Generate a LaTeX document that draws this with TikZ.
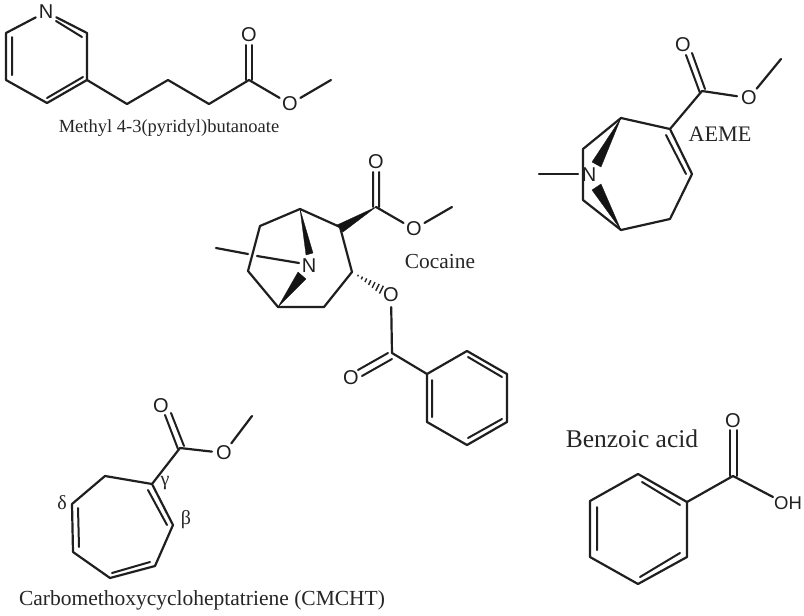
\documentclass[tikz,border=0pt]{standalone}
\usepackage{fontspec}
\usetikzlibrary{calc}
\setmainfont{Liberation Serif}
\newfontfamily\atomfont{Liberation Sans}
\tikzset{
  x=1pt,y=-1pt,
  bond/.style={line width=2.2pt,draw=black!88,line cap=round,line join=round},
  inner/.style={line width=2pt,draw=black!88,line cap=round},
  wedge/.style={fill=black!92,draw=black!92,line width=.3pt,line join=round},
  hash/.style={line width=1.4pt,draw=black!85},
  atom/.style={font=\atomfont\fontsize{20}{20}\selectfont,text=black!88,inner sep=1pt,circle},
  cap/.style={text=black!85,inner sep=0pt,font=\fontsize{#1}{#1}\selectfont},
  cap/.default=21.5
}
\newcommand{\pts}[1]{\foreach \nm/\xx/\yy in {#1}{\coordinate (\nm) at (\xx,\yy);}}
\begin{document}
\begin{tikzpicture}
\path[fill=white,use as bounding box] (0,0) rectangle (804,616);
% ---------- Methyl 4-3(pyridyl)butanoate
\node[atom] (aN) at (46,12) {N};
\node[atom] (aO1) at (249,35) {O};
\node[atom] (aO2) at (290,104) {O};
\coordinate (a1) at (87,33);
\pts{a2/87/80,a3/47/103,a4/6/80,a5/6/33,a6/127/104,a7/168/80,a8/209/104,a9/249/80,a10/331/80,
 ai1/56/21,ai2/82/37,ai3/12/37,ai4/12/75,ai5/47/98,ai6/83/77,ad1/246/45,ad2/246/80,ad3/252/45,ad4/252/80}
\draw[bond] (aN)--(a1)--(a2)--(a3)--(a4)--(a5)--(aN);
\draw[bond] (a2)--(a6)--(a7)--(a8)--(a9)--(aO2)--(a10);
\draw[inner] (ai1)--(ai2) (ai3)--(ai4) (ai5)--(ai6);
\draw[inner] (ad1)--(ad2) (ad3)--(ad4);
\node[cap=18.5] (la) at (169,128) {Methyl 4-3(pyridyl)butanoate};
% ---------- AEME
\node[atom] (bO1) at (683,45) {O};
\node[atom] (bO2) at (749,98) {O};
\node[atom,inner sep=0pt] (bN) at (589,175) {N};
\pts{b1/702/91,b2/670/129,b3/621/118,b4/692/174,b5/670/219,b6/621/230,b7/583/149,b8/583/200,b9/781/59,b10/539/174,b11/578/174,
 bi1/666/135,bi2/686/174,bd1/686/55,bd2/700/93,bd3/692/53,bd4/705/89,bw1/592/162,bw2/601/167,bw3/592/190,bw4/601/184}
\draw[bond] (b1)--(b2)--(b3)--(b7)--(b8)--(b6)--(b5)--(b4)--(b2);
\draw[bond] (b1)--(bO2)--(b9);
\draw[bond] (b10)--(b11);
\draw[inner] (bi1)--(bi2) (bd1)--(bd2) (bd3)--(bd4);
\fill[wedge] (b3)--(bw2)--(bw1)--cycle;
\fill[wedge] (b6)--(bw4)--(bw3)--cycle;
\node[cap=22.2] (lb) at (720,134) {AEME};
% ---------- Cocaine
\node[atom] (cO1) at (376,162) {O};
\node[atom] (cO2) at (414,229) {O};
\node[atom] (cO3) at (391,295) {O};
\node[atom] (cO4) at (351,378) {O};
\node[atom,inner sep=0pt] (cN) at (309,266) {N};
\pts{c1/376/207,c2/340/227,c3/300/209,c4/260/226,c5/248/271,c6/278/307,c7/324/307,c8/352/272,c9/452/207,
 c10/216/248,c11/248/254,c12/257/256,c13/299/263,c14/392/353,
 r1/427/374,r2/467/351,r3/507/374,r4/507/422,r5/467/445,r6/427/422,
 ri1/432/380,ri2/432/417,ri3/468/357,ri4/502/377,ri5/468/438,ri6/502/419,
 cd1/373/172,cd2/373/207,cd3/379/172,cd4/379/207,cd5/358/370,cd6/388/353,cd7/362/376,cd8/392/359,
 cw1/337/225,cw2/343/232,cw3/306/255,cw4/313/253,cw5/298/272,cw6/306/279,h1/380/294,h2/384/286}
\draw[bond] (c2)--(c3)--(c4)--(c5)--(c6)--(c7)--(c8)--(c2);
\draw[bond] (c1)--(cO2)--(c9);
\draw[bond] (c10)--(c11) (c12)--(c13);
\draw[bond] (cO3)--(c14)--(r1);
\draw[bond] (r1)--(r2)--(r3)--(r4)--(r5)--(r6)--cycle;
\draw[inner] (ri1)--(ri2) (ri3)--(ri4) (ri5)--(ri6);
\draw[inner] (cd1)--(cd2) (cd3)--(cd4) (cd5)--(cd6) (cd7)--(cd8);
\fill[wedge] (c1)--(cw2)--(cw1)--cycle;
\fill[wedge] (c3)--(cw4)--(cw3)--cycle;
\fill[wedge] (c6)--(cw6)--(cw5)--cycle;
\foreach \t in {0.2,0.33,0.46,0.59,0.72,0.85,0.98}
  \draw[hash] ($(c8)!\t!(h1)$)--($(c8)!\t!(h2)$);
\node[cap=21.4] (lc) at (440,262) {Cocaine};
% ---------- CMCHT
\node[atom] (dO1) at (161,406) {O};
\node[atom] (dO2) at (224,453) {O};
\pts{d1/180/448,d2/152/484,d3/105/476,d4/72/504,d5/73/552,d6/110/578,d7/155/566,d8/173/525,d9/252/416,
 di1/148/490,di2/167/525,di3/78/508,di4/79/547,di5/112/573,di6/150/562,
 dd1/165/415,dd2/178/449,dd3/171/413,dd4/184/446}
\draw[bond] (d1)--(d2)--(d3)--(d4)--(d5)--(d6)--(d7)--(d8)--(d2);
\draw[bond] (d1)--(dO2)--(d9);
\draw[inner] (di1)--(di2) (di3)--(di4) (di5)--(di6);
\draw[inner] (dd1)--(dd2) (dd3)--(dd4);
\node[cap=20] (lg) at (165,483) {γ};
\node[cap=20] (ld) at (62,503) {δ};
\node[cap=20] (lbt) at (186,520) {β};
\node[cap=21.5] (ldn) at (202,600) {Carbomethoxycycloheptatriene (CMCHT)};
% ---------- Benzoic acid
\node[atom] (eO) at (733,421) {O};
\node[atom,font=\atomfont\fontsize{18.5}{18.5}\selectfont] (eOH) at (788,503) {OH};
\pts{e1/733/476,e2/687/502,e3/638/474,e4/590/501,e5/590/557,e6/638/584,e7/687/557,
 ei1/642/482,ei2/680/505,ei3/597/507,ei4/597/550,ei5/640/577,ei6/680/553,
 ed1/730/430,ed2/730/476,ed3/737/430,ed4/737/476,e8/773/497}
\draw[bond] (e2)--(e3)--(e4)--(e5)--(e6)--(e7)--cycle;
\draw[bond] (e2)--(e1)--(e8);
\draw[inner] (ei1)--(ei2) (ei3)--(ei4) (ei5)--(ei6);
\draw[inner] (ed1)--(ed2) (ed3)--(ed4);
\node[cap=25.5] (le) at (632,439) {Benzoic acid};
\end{tikzpicture}
\end{document}
